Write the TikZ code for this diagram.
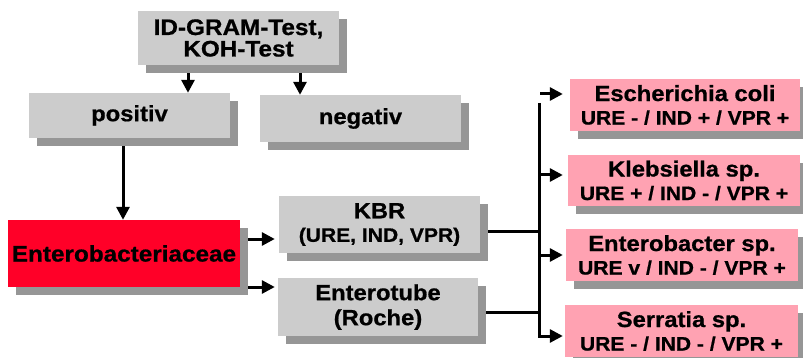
\documentclass[tikz,border=0pt]{standalone}
\usepackage{fontspec}
\setmainfont{Liberation Sans}[FakeStretch=1.08, BoldFeatures={FakeBold=0.8}]
\usetikzlibrary{arrows.meta,shadows,backgrounds,calc}
\definecolor{boxgray}{HTML}{CCCCCC}
\definecolor{shadowgray}{HTML}{969696}
\definecolor{entred}{HTML}{FF0028}
\definecolor{pinkbox}{HTML}{FFA2B2}
\newcommand{\subline}[1]{{\fontsize{19.5}{23.5}\selectfont #1}}
\begin{document}
\begin{tikzpicture}[x=1pt,y=-1pt,
  box/.style={rectangle, inner sep=0pt, align=center,
    font=\bfseries\fontsize{22}{23.5}\selectfont,
    general shadow={fill=shadowgray, shadow xshift=8pt, shadow yshift=-8pt}},
  graybox/.style={box, fill=boxgray},
  redbox/.style={box, fill=entred},
  pinkb/.style={box, fill=pinkbox},
  conn/.style={line width=3pt},
  arr/.style={conn, -{Triangle[length=13pt,width=13pt]}}]
\useasboundingbox (0,0) rectangle (803,358);

\node[graybox, minimum width=201pt, minimum height=54pt, font=\bfseries\fontsize{22.5}{21.5}\selectfont] (top) at (238.5,38) {\raisebox{-1.5pt}{ID-GRAM-Test,}\\\raisebox{-1.5pt}{KOH-Test}};
\node[graybox, minimum width=201pt, minimum height=45pt] (pos) at (129.5,115.5) {positiv};
\node[graybox, minimum width=201pt, minimum height=47pt] (neg) at (360.5,118.5) {negativ};
\node[redbox, minimum width=232pt, minimum height=67pt, font=\bfseries\fontsize{22.5}{24}\selectfont] (ent) at (124,253.5) {Enterobacteriaceae};
\node[graybox, minimum width=201pt, minimum height=57pt] (kbr) at (379.5,224.5) {KBR\\\subline{(URE, IND, VPR)}};
\node[graybox, minimum width=200pt, minimum height=58pt, font=\bfseries\fontsize{22}{25}\selectfont] (tube) at (378,307) {Enterotube\\(Roche)};

\node[pinkb, minimum width=230pt, minimum height=52pt] (ecoli) at (685,105) {Escherichia coli\\\subline{URE - / IND + / VPR +}};
\node[pinkb, minimum width=232pt, minimum height=51pt] (kleb) at (684,180.5) {Klebsiella sp.\\\subline{URE + / IND - / VPR +}};
\node[pinkb, minimum width=232pt, minimum height=52pt] (entb) at (682,255) {Enterobacter sp.\\\subline{URE v / IND - / VPR +}};
\node[pinkb, minimum width=233pt, minimum height=52pt] (serr) at (681.5,331) {Serratia sp.\\\subline{URE - / IND - / VPR +}};

\coordinate (bustop) at (539,103);
\coordinate (busbot) at (539,336);
\coordinate (ectail) at (540,94);

\begin{pgfonlayer}{background}
\draw[arr] (top.south -| 188,0) -- (pos.north -| 188,0);
\draw[arr] (top.south -| 300,0) -- (neg.north -| 300,0);
\draw[arr] (pos.south -| 123,0) -- (ent.north -| 123,0);
\draw[arr, shorten >=4pt] (ent.east |- 0,239) -- (kbr.west |- 0,239);
\draw[arr, shorten >=3pt] (ent.east |- 0,287) -- (tube.west |- 0,287);
\draw[conn] (kbr.east |- 0,232) -- (bustop |- 0,232);
\draw[conn] (tube.east |- 0,312) -- (bustop |- 0,312);
\draw[arr, shorten >=2pt] (bustop) -- (busbot) -- (serr.west |- busbot);
\draw[arr, shorten >=7pt] (ectail) -- (ecoli.west |- ectail);
\draw[arr, shorten >=5pt] (bustop |- 0,175) -- (kleb.west |- 0,175);
\draw[arr, shorten >=3pt] (bustop |- 0,255) -- (entb.west |- 0,255);
\end{pgfonlayer}
\end{tikzpicture}
\end{document}
